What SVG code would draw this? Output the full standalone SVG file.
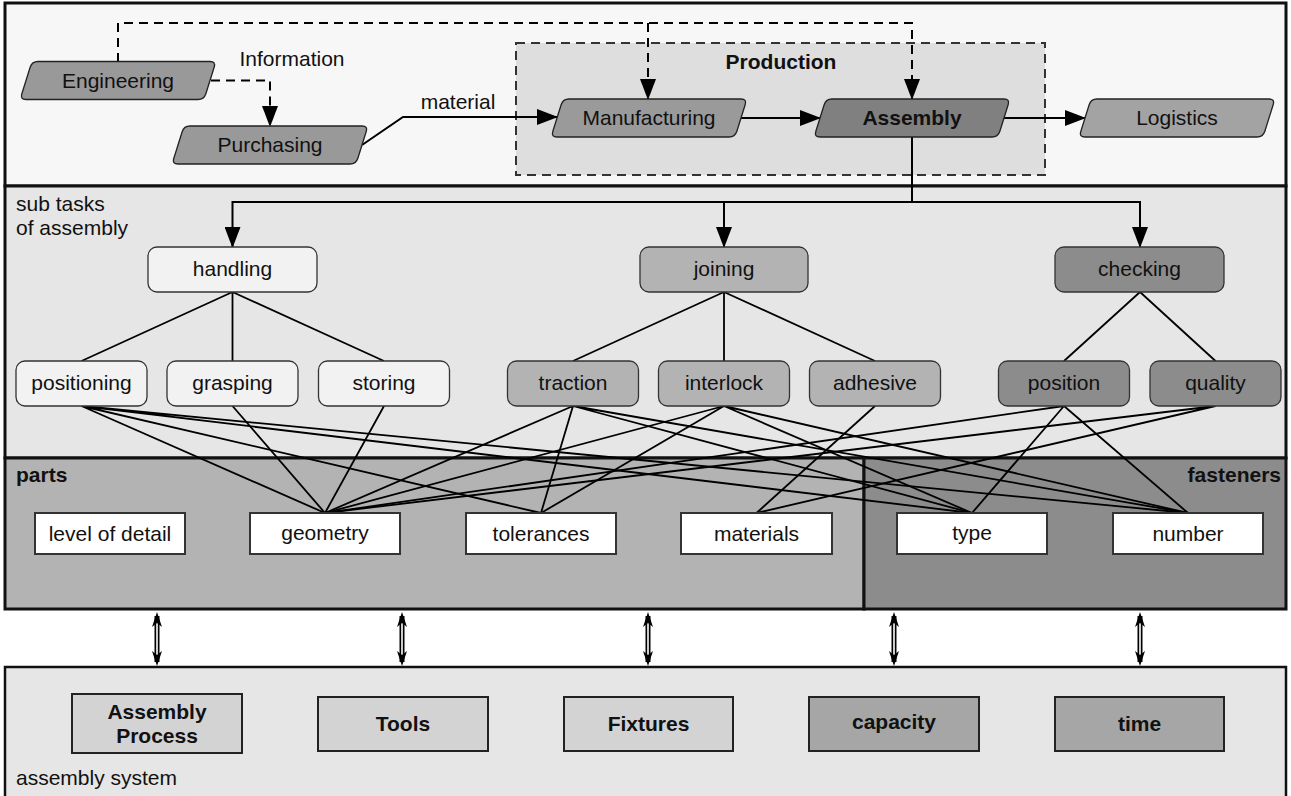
<svg xmlns="http://www.w3.org/2000/svg" xmlns:xlink="http://www.w3.org/1999/xlink" width="1291" height="796" viewBox="0 0 1291 796">
<style>
text{font-family:"Liberation Sans",Arial,sans-serif;font-size:21px;fill:#111;}
.c{text-anchor:middle;}
.b{font-weight:bold;}
.panel{stroke:#111;stroke-width:3;}
.para{stroke:#222;stroke-width:1.3;}
.rr{stroke:#333;stroke-width:1.3;}
.pbox{fill:#fff;stroke:#333;stroke-width:2;}
.sbox{stroke:#222;stroke-width:2;}
.ln{stroke:#000;stroke-width:1.8;fill:none;}
.dash{stroke:#000;stroke-width:2;fill:none;stroke-dasharray:9 6;}
.arr{stroke:#000;stroke-width:2;fill:none;}
</style>
<defs>
<marker id="ah" markerUnits="userSpaceOnUse" markerWidth="21" markerHeight="16" refX="20" refY="8" orient="auto" viewBox="0 0 21 16">
<path d="M0,0 L21,8 L0,16 Z" fill="#000"/>
</marker>
<path id="para" d="M -80,-19 L 92,-19 Q 98,-19 96.15,-13.29 L 87.85,13.29 Q 86,19 80,19 L -92,19 Q -98,19 -96.15,13.29 L -87.85,-13.29 Q -86,-19 -80,-19 Z"/>
<g id="dbl">
<line x1="0" y1="616" x2="0" y2="662" stroke="#000" stroke-width="5"/>
<line x1="0" y1="620" x2="0" y2="658" stroke="#fff" stroke-width="1.6"/>
<path d="M0,612 L-5,627 L0,623 L5,627 Z" fill="#000"/>
<path d="M0,666 L-5,651 L0,655 L5,651 Z" fill="#000"/>
</g>
</defs>
<rect width="1291" height="796" fill="#fff"/>

<!-- panels -->
<g id="panels">
<rect class="panel" x="5" y="3" width="1281" height="183" fill="#f7f7f7"/>
<rect class="panel" x="5" y="186" width="1281" height="272" fill="#e6e6e6"/>
<rect class="panel" x="5" y="458" width="859" height="151" fill="#b3b3b3"/>
<rect class="panel" x="864" y="458" width="422" height="151" fill="#8c8c8c"/>
<rect x="5" y="667" width="1281" height="140" fill="#e6e6e6" stroke="#111" stroke-width="2.5"/>
<text x="16" y="211">sub tasks</text>
<text x="16" y="235">of assembly</text>
<text class="b" x="16" y="482">parts</text>
<text class="b" x="1281" y="482" text-anchor="end">fasteners</text>
<text x="16" y="785">assembly system</text>
</g>

<g id="production">
<rect x="516" y="43" width="529" height="132" fill="#dedede" stroke="#333" stroke-width="2" stroke-dasharray="9 6"/>
<text class="c b" x="781" y="69">Production</text>
</g>

<!-- connectors -->
<g id="connectors">
<path class="dash" d="M118,62 V23 H912 V99" marker-end="url(#ah)"/>
<path class="dash" d="M648,23 V99" marker-end="url(#ah)"/>
<path class="dash" d="M211,80.5 H270 V126" marker-end="url(#ah)"/>
<path class="arr" d="M362,145 L403,117 H557" marker-end="url(#ah)"/>
<path class="arr" d="M741,118 H820" marker-end="url(#ah)"/>
<path class="arr" d="M1004,118 H1085" marker-end="url(#ah)"/>
<path class="arr" d="M912,137 V202"/>
<path class="arr" d="M912,202 H232.5 V247" marker-end="url(#ah)"/>
<path class="arr" d="M912,202 H1140 V247" marker-end="url(#ah)"/>
<path class="arr" d="M724,202 V247" marker-end="url(#ah)"/>
<!-- tree -->
<path class="ln" d="M232.5,292 L81.5,361 M232.5,292 L232.5,361 M232.5,292 L384,361"/>
<path class="ln" d="M724,292 L573,361 M724,292 L724,361 M724,292 L875,361"/>
<path class="ln" d="M1140,292 L1064,361 M1140,292 L1215.5,361"/>
<!-- cross links -->
<path class="ln" d="M81.5,406 L325,513 M81.5,406 L541,513 M81.5,406 L972,513 M81.5,406 L1188,513"/>
<path class="ln" d="M232.5,406 L325,513 M384,406 L325,513"/>
<path class="ln" d="M573,406 L325,513 M573,406 L541,513 M573,406 L972,513 M573,406 L1188,513"/>
<path class="ln" d="M724,406 L325,513 M724,406 L541,513 M724,406 L972,513 M724,406 L1188,513"/>
<path class="ln" d="M875,406 L756.5,513"/>
<path class="ln" d="M1064,406 L325,513 M1064,406 L972,513 M1064,406 L1188,513"/>
<path class="ln" d="M1215.5,406 L325,513 M1215.5,406 L756.5,513"/>
<!-- double arrows -->
<use xlink:href="#dbl" transform="translate(157,0)"/>
<use xlink:href="#dbl" transform="translate(402,0)"/>
<use xlink:href="#dbl" transform="translate(648,0)"/>
<use xlink:href="#dbl" transform="translate(894,0)"/>
<use xlink:href="#dbl" transform="translate(1140,0)"/>
</g>

<!-- top nodes -->
<g id="engineering"><use xlink:href="#para" class="para" x="118" y="80.5" fill="#999"/><text class="c" x="118" y="88">Engineering</text></g>
<g id="purchasing"><use xlink:href="#para" class="para" x="270" y="145" fill="#999"/><text class="c" x="270" y="152">Purchasing</text></g>
<g id="manufacturing"><use xlink:href="#para" class="para" x="649" y="118" fill="#9a9a9a"/><text class="c" x="649" y="125">Manufacturing</text></g>
<g id="assembly"><use xlink:href="#para" class="para" x="912" y="118" fill="#808080"/><text class="c b" x="912" y="125">Assembly</text></g>
<g id="logistics"><use xlink:href="#para" class="para" x="1177" y="118" fill="#a3a3a3"/><text class="c" x="1177" y="125">Logistics</text></g>
<g id="labels">
<text class="c" x="292" y="66">Information</text>
<text class="c" x="458" y="109">material</text>
</g>

<!-- sub tasks -->
<g id="handling"><rect class="rr" x="148" y="247" width="169" height="45" rx="9" fill="#f2f2f2"/><text class="c" x="232.5" y="276">handling</text></g>
<g id="joining"><rect class="rr" x="640" y="247" width="168" height="45" rx="9" fill="#b3b3b3"/><text class="c" x="724" y="276">joining</text></g>
<g id="checking"><rect class="rr" x="1055" y="247" width="169" height="45" rx="9" fill="#8c8c8c"/><text class="c" x="1139.5" y="276">checking</text></g>

<g id="positioning"><rect class="rr" x="16" y="361" width="131" height="45" rx="9" fill="#f2f2f2"/><text class="c" x="81.5" y="390">positioning</text></g>
<g id="grasping"><rect class="rr" x="167" y="361" width="131" height="45" rx="9" fill="#f2f2f2"/><text class="c" x="232.5" y="390">grasping</text></g>
<g id="storing"><rect class="rr" x="318.5" y="361" width="131" height="45" rx="9" fill="#f2f2f2"/><text class="c" x="384" y="390">storing</text></g>
<g id="traction"><rect class="rr" x="507.5" y="361" width="131" height="45" rx="9" fill="#b3b3b3"/><text class="c" x="573" y="390">traction</text></g>
<g id="interlock"><rect class="rr" x="658.5" y="361" width="131" height="45" rx="9" fill="#b3b3b3"/><text class="c" x="724" y="390">interlock</text></g>
<g id="adhesive"><rect class="rr" x="809.5" y="361" width="131" height="45" rx="9" fill="#b3b3b3"/><text class="c" x="875" y="390">adhesive</text></g>
<g id="position"><rect class="rr" x="998.5" y="361" width="131" height="45" rx="9" fill="#8c8c8c"/><text class="c" x="1064" y="390">position</text></g>
<g id="quality"><rect class="rr" x="1150" y="361" width="131" height="45" rx="9" fill="#8c8c8c"/><text class="c" x="1215.5" y="390">quality</text></g>

<!-- parts / fasteners -->
<g id="level-of-detail"><rect class="pbox" x="35" y="513" width="150" height="41"/><text class="c" x="110" y="541">level of detail</text></g>
<g id="geometry"><rect class="pbox" x="250" y="513" width="150" height="41"/><text class="c" x="325" y="540">geometry</text></g>
<g id="tolerances"><rect class="pbox" x="466" y="513" width="150" height="41"/><text class="c" x="541" y="541">tolerances</text></g>
<g id="materials"><rect class="pbox" x="681" y="513" width="151" height="41"/><text class="c" x="756.5" y="541">materials</text></g>
<g id="type"><rect class="pbox" x="897" y="513" width="150" height="41"/><text class="c" x="972" y="540">type</text></g>
<g id="number"><rect class="pbox" x="1113" y="513" width="150" height="41"/><text class="c" x="1188" y="541">number</text></g>

<!-- assembly system -->
<g id="assembly-process"><rect class="sbox" x="72" y="694" width="170" height="59" fill="#d3d3d3"/><text class="c b" x="157" y="719">Assembly</text><text class="c b" x="157" y="743">Process</text></g>
<g id="tools"><rect class="sbox" x="318" y="697" width="170" height="54" fill="#d3d3d3"/><text class="c b" x="403" y="731">Tools</text></g>
<g id="fixtures"><rect class="sbox" x="564" y="697" width="169" height="54" fill="#d3d3d3"/><text class="c b" x="648.5" y="731">Fixtures</text></g>
<g id="capacity"><rect class="sbox" x="809" y="697" width="170" height="54" fill="#a6a6a6"/><text class="c b" x="894" y="729">capacity</text></g>
<g id="time"><rect class="sbox" x="1055" y="697" width="169" height="54" fill="#a6a6a6"/><text class="c b" x="1139.5" y="731">time</text></g>
</svg>
